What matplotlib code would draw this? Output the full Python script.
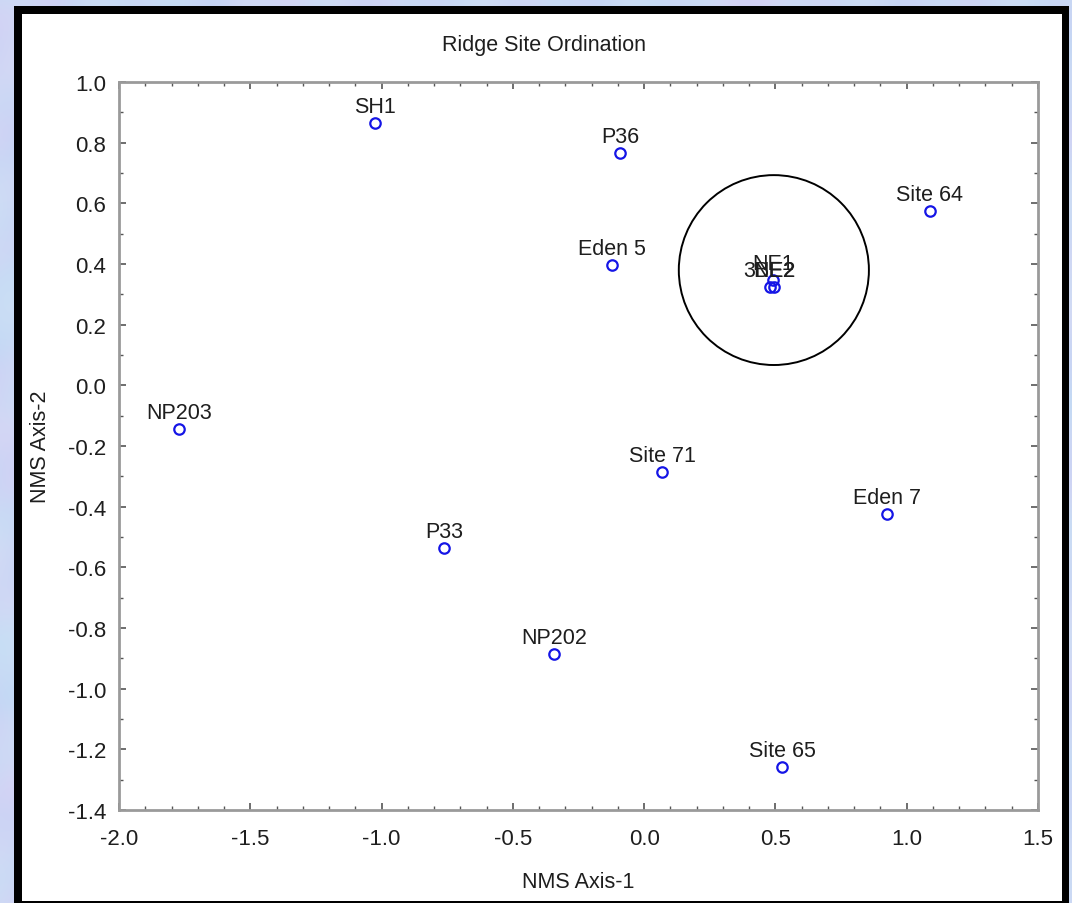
import numpy as np
import matplotlib
matplotlib.use("Agg")
import matplotlib.pyplot as plt
from matplotlib.patches import Rectangle, Ellipse
from matplotlib.ticker import MultipleLocator, FormatStrFormatter

plt.rcParams['font.family'] = ['Liberation Sans', 'DejaVu Sans']

# NMS ordination scores
sites = ["SH1", "P36", "Site 64", "Eden 5", "NE1", "NE2", "3BE2",
         "NP203", "Site 71", "Eden 7", "P33", "NP202", "Site 65"]
axis1 = [-1.025, -0.092, 1.088, -0.123, 0.490, 0.494, 0.479,
         -1.772, 0.068, 0.925, -0.762, -0.343, 0.525]
axis2 = [0.865, 0.766, 0.575, 0.397, 0.347, 0.324, 0.324,
         -0.144, -0.286, -0.424, -0.536, -0.886, -1.258]

# highlighted group
group_center = (0.494, 0.380)
group_width = 0.724
group_height = 0.626

W, H = 1072, 904
fig = plt.figure(figsize=(W / 100, H / 100), dpi=100)

# soft mottled blue backdrop
bg = fig.add_axes([0, 0, 1, 1], zorder=-10)
yy, xx = np.mgrid[0:H:2, 0:W:2] / 1.0
t = (np.sin(xx / 37.0 + yy / 61.0) + np.sin(yy / 29.0 - xx / 71.0)
     + 0.5 * np.sin((xx + 2 * yy) / 19.0) + 0.4 * np.cos((3 * xx - yy) / 23.0))
t = (t - t.min()) / (t.max() - t.min())
u = 0.5 + 0.5 * np.sin(xx / 43.0 - yy / 27.0) * np.cos(yy / 53.0 + xx / 17.0)
c_blue = np.array([0.76, 0.84, 0.96])
c_lav = np.array([0.84, 0.82, 0.96])
c_cyan = np.array([0.80, 0.92, 0.96])
img = c_blue * (1 - t[..., None]) + c_lav * t[..., None]
img = img * (1 - 0.4 * u[..., None]) + c_cyan * 0.4 * u[..., None]
img = np.clip(img, 0, 1)
bg.imshow(img, extent=[0, W, 0, H], aspect='auto', interpolation='bilinear')
bg.set_xlim(0, W)
bg.set_ylim(0, H)
bg.axis('off')

# black frame with white panel
fig.patches.append(Rectangle((14 / W, 0), (1069 - 14) / W, (H - 7) / H,
                             transform=fig.transFigure, facecolor='black',
                             edgecolor='none', zorder=-5))
fig.patches.append(Rectangle((22 / W, 2 / H), (1062 - 22) / W, (H - 15 - 2) / H,
                             transform=fig.transFigure, facecolor='white',
                             edgecolor='none', zorder=-4))

ax = fig.add_axes([119 / W, (H - 811) / H, (1038 - 119) / W, (811 - 83) / H])
ax.set_facecolor('none')
ax.set_xlim(-2.0, 1.5)
ax.set_ylim(-1.4, 1.0)

ax.plot(axis1, axis2, linestyle='none', marker='o', markersize=7.5,
        markerfacecolor='none', markeredgecolor='#1515e6', markeredgewidth=1.6,
        zorder=3)
for name, x, y in zip(sites, axis1, axis2):
    ax.annotate(name, (x, y), xytext=(0, 8), textcoords='offset points',
                ha='center', va='baseline', fontsize=15.5, color='#1e1e1e')

ax.add_patch(Ellipse(group_center, group_width, group_height, fill=False,
                     edgecolor='black', linewidth=1.4, zorder=4))

ax.xaxis.set_major_locator(MultipleLocator(0.5))
ax.xaxis.set_minor_locator(MultipleLocator(0.1))
ax.yaxis.set_major_locator(MultipleLocator(0.2))
ax.yaxis.set_minor_locator(MultipleLocator(0.1))
ax.xaxis.set_major_formatter(FormatStrFormatter('%.1f'))
ax.yaxis.set_major_formatter(FormatStrFormatter('%.1f'))

for s in ax.spines.values():
    s.set_color('#9a9a9a')
    s.set_linewidth(2.0)
ax.tick_params(which='both', direction='in', top=True, right=True,
               color='#555555', labelsize=16, labelcolor='#1e1e1e')
ax.tick_params(which='major', length=5, width=1.2)
ax.tick_params(which='minor', length=3, width=1.0)
ax.tick_params(axis='x', which='major', pad=13)
ax.tick_params(axis='y', which='major', pad=9)

ax.set_xlabel('NMS Axis-1', fontsize=15.5, color='#1e1e1e', labelpad=16)
ax.set_ylabel('NMS Axis-2', fontsize=15.5, color='#1e1e1e', labelpad=12)
fig.text(544 / W, 1 - 45 / H, 'Ridge Site Ordination', ha='center', va='center',
         fontsize=15.5, color='#1e1e1e')

fig.savefig('out.png', dpi=100)
